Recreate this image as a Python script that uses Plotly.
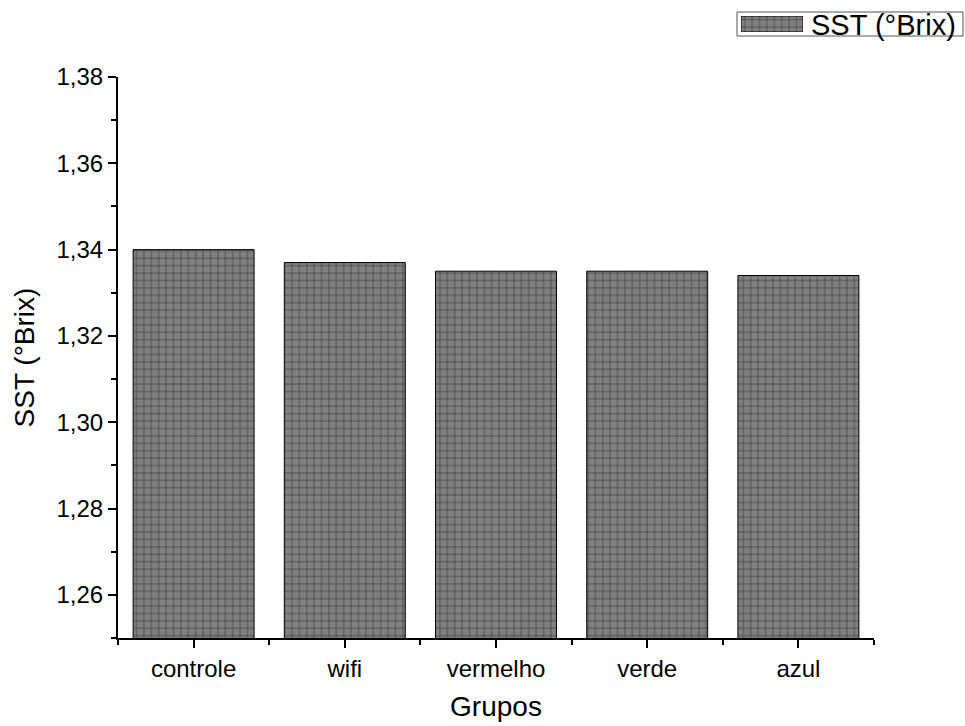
import plotly.graph_objects as go

# Soluble solids per treatment group
groups = ["controle", "wifi", "vermelho", "verde", "azul"]
sst_brix = [1.340, 1.337, 1.335, 1.335, 1.334]
y_ticks = [1.26, 1.28, 1.30, 1.32, 1.34, 1.36, 1.38]
series_name = "SST (°Brix)"

positions = list(range(len(groups)))

FONT = "Liberation Sans, Arial, sans-serif"
W, H = 965, 726
ML, MR, MT, MB = 118, 0, 0, 88
PW, PH = W - ML - MR, H - MT - MB


def px_x(x):
    return (x - ML) / PW


def px_y(y):
    return (H - MB - y) / PH


bar_marker = dict(
    color="#808080",
    line=dict(color="black", width=1),
    pattern=dict(shape="+", fgcolor="black", bgcolor="#808080",
                 size=7.4, solidity=0.18, fillmode="overlay"),
)

fig = go.Figure()
fig.add_trace(go.Bar(
    x=positions, y=sst_brix, name=series_name, width=0.8,
    marker=bar_marker, showlegend=False,
))

# legend swatch drawn as a patterned block on its own small axis
fig.add_trace(go.Bar(
    x=[0.5], y=[1], width=1, marker=bar_marker, showlegend=False,
    hoverinfo="skip", xaxis="x2", yaxis="y2",
))

# legend frame and label
leg_x0, leg_x1, leg_y0, leg_y1 = 737, 963, 12, 36
fig.add_shape(type="rect", xref="paper", yref="paper",
              x0=px_x(leg_x0), x1=px_x(leg_x1), y0=px_y(leg_y1), y1=px_y(leg_y0),
              line=dict(color="#555", width=1), fillcolor="rgba(0,0,0,0)")
fig.add_annotation(text=series_name, xref="paper", yref="paper",
                   x=px_x(809), y=px_y((leg_y0 + leg_y1) / 2 + 1),
                   xanchor="left", yanchor="middle", showarrow=False,
                   font=dict(family=FONT, size=29, color="black"))

tick_font = dict(family=FONT, size=24, color="black")
title_font = dict(family=FONT, size=28, color="black")

fig.update_layout(
    width=W, height=H,
    margin=dict(l=ML, r=MR, t=MT, b=MB, autoexpand=False),
    paper_bgcolor="white", plot_bgcolor="white",
    separators=",.",
    font=tick_font,
    showlegend=False,
    xaxis=dict(
        domain=[0, px_x(874)],
        range=[-0.5, 4.5],
        automargin=False,
        tickmode="array", tickvals=positions, ticktext=groups,
        tickfont=tick_font,
        ticks="outside", ticklen=8, tickwidth=2, tickcolor="black",
        showline=True, linecolor="black", linewidth=2,
        showgrid=False, zeroline=False,
        minor=dict(tick0=0.5, dtick=1, ticks="outside", ticklen=5,
                   tickwidth=2, tickcolor="black", showgrid=False),
        title=dict(text="Grupos", standoff=16, font=title_font),
    ),
    yaxis=dict(
        domain=[0, px_y(77)],
        range=[1.25, 1.38],
        automargin=False,
        tickmode="array", tickvals=y_ticks,
        tickformat=".2f", tickfont=tick_font,
        ticks="outside", ticklen=8, tickwidth=2, tickcolor="black",
        showline=True, linecolor="black", linewidth=2,
        showgrid=False, zeroline=False,
        minor=dict(tick0=1.25, dtick=0.01, ticks="outside", ticklen=5,
                   tickwidth=2, tickcolor="black", showgrid=False),
        title=dict(text="SST (°Brix)", standoff=14, font=title_font),
    ),
    xaxis2=dict(domain=[px_x(741), px_x(803)], range=[0, 1], anchor="y2",
                visible=False, fixedrange=True, automargin=False),
    yaxis2=dict(domain=[px_y(32), px_y(16)], range=[0, 1], anchor="x2",
                visible=False, fixedrange=True, automargin=False),
)

fig.write_html("out.html")
